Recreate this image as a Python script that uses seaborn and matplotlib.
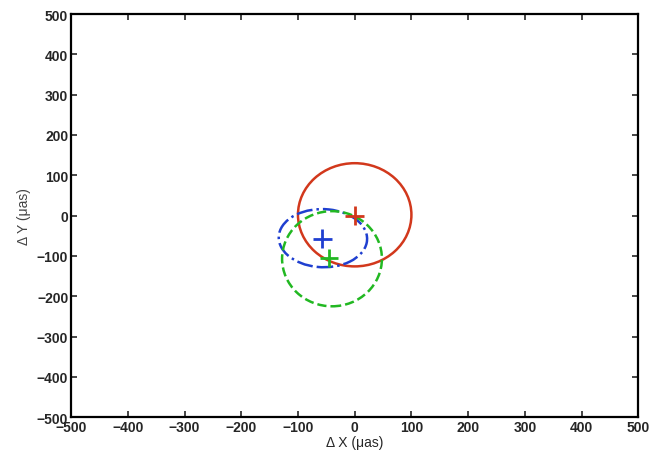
import pandas as pd
import matplotlib
matplotlib.use("Agg")
import matplotlib.pyplot as plt
from matplotlib.patches import Ellipse
import seaborn as sns

# fitted positions (plus markers), micro-arcseconds
names = ["red", "blue", "green"]
center_x = [0, -57, -45]
center_y = [0, -57, -105]

# error ellipses: centre, semi-axes, tilt (deg)
ell_x = [0, -56, -40]
ell_y = [2, -56, -107]
ell_rx = [100, 78, 88]
ell_ry = [128, 72, 118]
ell_angle = [0, -8, 0]

colors = ["#d2381c", "#1f3fd0", "#22b822"]
styles = ["-", "-.", "--"]

ticks = [-500, -400, -300, -200, -100, 0, 100, 200, 300, 400, 500]


def main():
    sns.set_style("white")
    plt.rcParams["font.family"] = ["Liberation Sans", "DejaVu Sans"]

    fig = plt.figure(figsize=(6.52, 4.56), dpi=100)
    ax = fig.add_axes([0.109, 0.083, 0.870, 0.884])

    for i in range(3):
        e = Ellipse((ell_x[i], ell_y[i]), 2 * ell_rx[i], 2 * ell_ry[i],
                    angle=ell_angle[i], fill=False, edgecolor=colors[i],
                    linestyle=styles[i], linewidth=1.8)
        ax.add_patch(e)

    df = pd.DataFrame({"x": center_x, "y": center_y, "name": names})
    sns.scatterplot(data=df, x="x", y="y", hue="name", palette=colors,
                    marker="+", s=180, linewidth=2.0, legend=False, ax=ax,
                    zorder=3)

    ax.set_xlim(-500, 500)
    ax.set_ylim(-500, 500)
    ax.set_xticks(ticks)
    ax.set_yticks(ticks)
    ax.set_xticklabels([str(t).replace("-", "\u2212") for t in ticks],
                       fontsize=10, fontweight="bold")
    ax.set_yticklabels([str(t).replace("-", "\u2212") for t in ticks],
                       fontsize=10, fontweight="bold")
    ax.tick_params(direction="in", length=4, width=1.2, pad=2,
                   top=True, right=True, bottom=True, left=True,
                   labeltop=False, labelright=False)
    for s in ax.spines.values():
        s.set_linewidth(1.6)
        s.set_color("black")
    ax.set_xlabel("\u0394 X (\u03bcas)", fontsize=10, labelpad=1)
    ax.set_ylabel("\u0394 Y (\u03bcas)", fontsize=10, labelpad=4, color="#444444")

    fig.savefig("out.png", dpi=100)


if __name__ == "__main__":
    main()
